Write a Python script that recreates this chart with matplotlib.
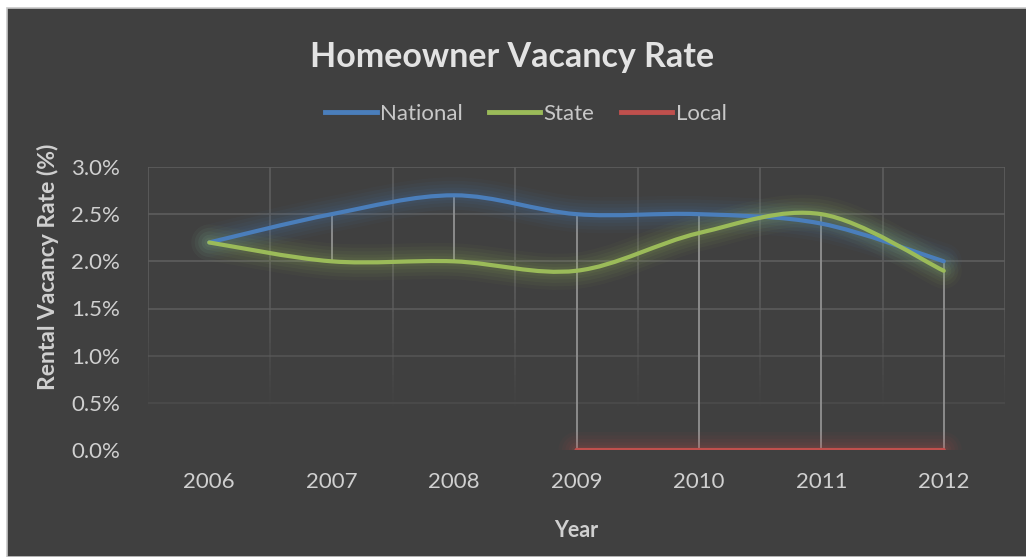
import numpy as np
import matplotlib.pyplot as plt
from matplotlib.path import Path
from matplotlib.patches import PathPatch, Rectangle
from matplotlib.lines import Line2D
from matplotlib.ticker import FuncFormatter

plt.rcParams['font.family'] = ['Lato', 'DejaVu Sans']

years = ['2006', '2007', '2008', '2009', '2010', '2011', '2012']
national = [2.2, 2.5, 2.7, 2.5, 2.5, 2.4, 2.0]
state = [2.2, 2.0, 2.0, 1.9, 2.3, 2.5, 1.9]
local = [np.nan, np.nan, np.nan, 0.0, 0.0, 0.0, 0.0]

series = [('National', national, '#4a7ebb'),
          ('State', state, '#9bbb59'),
          ('Local', local, '#c0504d')]

bg = '#404040'
txt = '#d0d0d0'


def smooth_path(xs, ys):
    # excel style smoothed line, bezier through the points
    pts = [(x, y) for x, y in zip(xs, ys) if not np.isnan(y)]
    pts = np.array(pts, dtype=float)
    if len(pts) < 3:
        return Path(pts)
    verts = [pts[0]]
    codes = [Path.MOVETO]
    n = len(pts)
    for i in range(n - 1):
        p0 = pts[i - 1] if i > 0 else pts[i]
        p1 = pts[i]
        p2 = pts[i + 1]
        p3 = pts[i + 2] if i + 2 < n else pts[i + 1]
        c1 = p1 + (p2 - p0) / 6.0
        c2 = p2 - (p3 - p1) / 6.0
        verts += [c1, c2, p2]
        codes += [Path.CURVE4] * 3
    return Path(verts, codes)


fig = plt.figure(figsize=(10.26, 5.57), dpi=100, facecolor='white')
fig.patches.append(Rectangle((7 / 1026, 0), 1.0, 549 / 557, transform=fig.transFigure,
                             facecolor=bg, edgecolor='#c8c8c8', linewidth=1.2, zorder=-10))

ax = fig.add_axes([148 / 1026, 107 / 557, 857 / 1026, 283 / 557])
ax.set_facecolor('none')
for s in ax.spines.values():
    s.set_visible(False)

x = np.arange(len(years))
ax.set_xlim(-0.5, len(years) - 0.5)
ax.set_ylim(0, 3.0)

# gridlines, fading out towards the bottom
grid_c = '#5e5e5e'
for yv in np.arange(0.5, 3.01, 0.5):
    a = min(1.0, 0.15 + yv / 2.0)
    ax.axhline(yv, color=grid_c, lw=1.2, alpha=a, zorder=0)
yy = np.linspace(0.4, 3.0, 40)
for xb in np.arange(-0.5, len(years), 1.0):
    for k in range(len(yy) - 1):
        a = np.clip((yy[k] - 0.4) / 1.4, 0, 1)
        ax.plot([xb, xb], [yy[k], yy[k + 1]], color=grid_c, lw=1.2, alpha=a,
                solid_capstyle='butt', zorder=0)

# high-low lines
arr = np.array([national, state, local], dtype=float)
hi = np.nanmax(arr, axis=0)
lo = np.nanmin(arr, axis=0)
ax.vlines(x, lo, hi, color='#8c8c8c', lw=1.4, zorder=1)

# lines with glow
for name, vals, col in series:
    p = smooth_path(x, vals)
    for w, a in [(26, 0.04), (21, 0.05), (16, 0.06), (11, 0.07), (7, 0.08)]:
        ax.add_patch(PathPatch(p, facecolor='none', edgecolor=col, lw=w, alpha=a,
                               capstyle='round', joinstyle='round', zorder=2))
    ax.add_patch(PathPatch(p, facecolor='none', edgecolor=col, lw=3.0,
                           capstyle='round', zorder=3))

ax.set_xticks(x)
ax.set_xticklabels(years)
ax.set_yticks(np.arange(0, 3.01, 0.5))
ax.yaxis.set_major_formatter(FuncFormatter(lambda v, pos: '%.1f%%' % v))
ax.tick_params(length=0, colors=txt, labelsize=16)
ax.tick_params(axis='x', pad=16)
ax.tick_params(axis='y', pad=20)

ax.set_xlabel('Year', color=txt, fontsize=15.5, fontweight='bold', labelpad=20)
ax.set_ylabel('Rental Vacancy Rate (%)', color=txt, fontsize=16.5, fontweight='bold')
ax.yaxis.set_label_coords(-89 / 857, 0.648)

fig.text(512 / 1026, 1 - 57 / 557, 'Homeowner Vacancy Rate', color='#e3e3e3',
         fontsize=24.5, fontweight='bold', ha='center', va='center')

handles = [Line2D([], [], color=c, lw=3.5) for _, _, c in series]
fig.legend(handles, [n for n, _, _ in series], loc='center',
           bbox_to_anchor=(526 / 1026, 1 - 114 / 557), ncol=3, frameon=False,
           fontsize=16, labelcolor='#c8c8c8', handlelength=2.3, handletextpad=0.15,
           columnspacing=1.2)

fig.savefig('out.png', dpi=100, facecolor=fig.get_facecolor())
